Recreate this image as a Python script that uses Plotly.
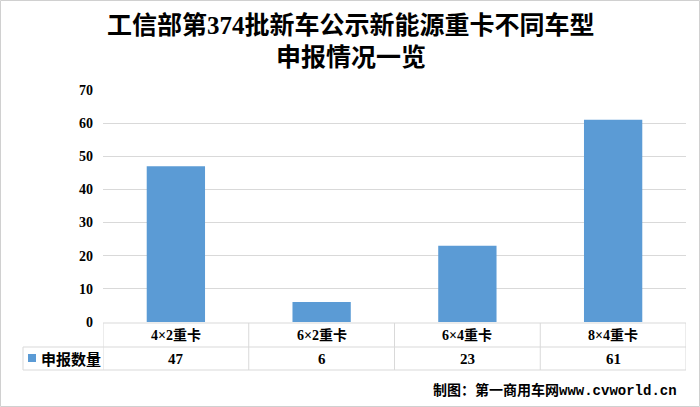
import plotly.graph_objects as go

categories = ["4×2重卡", "6×2重卡", "6×4重卡", "8×4重卡"]
values = [47, 6, 23, 61]
series_name = "申报数量"
title_lines = ["工信部第374批新车公示新能源重卡不同车型", "申报情况一览"]
footer = "制图：第一商用车网www.cvworld.cn"
y_ticks = [0, 10, 20, 30, 40, 50, 60, 70]

BAR = "#5B9BD5"
GRID = "#D9D9D9"
W, H = 700, 407
L, R, T, B = 103, 14, 90, 85
PW, PH = W - L - R, H - T - B

def px_x(p):
    return (p - L) / PW

def px_y(p):
    return (H - B - p) / PH

n = len(categories)
xs = list(range(n))
fig = go.Figure(go.Bar(x=xs, y=values, marker=dict(color=BAR, line=dict(width=0)),
                       width=0.4, name=series_name, showlegend=False, hoverinfo="skip"))

shapes = []
ann = []
# outer border
shapes.append(dict(type="rect", xref="paper", yref="paper", x0=px_x(0.5), x1=px_x(W - 0.5),
                   y0=px_y(H - 0.5), y1=px_y(0.5), line=dict(color="#D0D0D0", width=1)))
row1_top, row1_bot, row2_bot = 323, 347, 370
legend_left = 23
# horizontal table lines
shapes.append(dict(type="line", xref="x", yref="paper", x0=-0.5, x1=n - 0.5,
                   y0=px_y(row1_top), y1=px_y(row1_top), line=dict(color=GRID, width=1)))
for yy in (row1_bot, row2_bot):
    shapes.append(dict(type="line", xref="paper", yref="paper", x0=px_x(legend_left), x1=1,
                       y0=px_y(yy), y1=px_y(yy), line=dict(color=GRID, width=1)))
# vertical table lines
for i in range(n + 1):
    shapes.append(dict(type="line", xref="x", yref="paper", x0=i - 0.5, x1=i - 0.5,
                       y0=px_y(row1_top), y1=px_y(row2_bot), line=dict(color=GRID, width=1)))
shapes.append(dict(type="line", xref="paper", yref="paper", x0=px_x(legend_left), x1=px_x(legend_left),
                   y0=px_y(row1_bot), y1=px_y(row2_bot), line=dict(color=GRID, width=1)))
# legend key
shapes.append(dict(type="rect", xref="paper", yref="paper", x0=px_x(28), x1=px_x(36),
                   y0=px_y(362), y1=px_y(354), fillcolor=BAR, line=dict(width=0)))

serif_cjk = "Liberation Serif, Noto Sans CJK SC"
for i, (c, v) in enumerate(zip(categories, values)):
    ann.append(dict(x=i, y=px_y((row1_top + row1_bot) / 2), xref="x", yref="paper", text="<b>%s</b>" % c,
                    showarrow=False, font=dict(family=serif_cjk, size=14, color="#000000"),
                    xanchor="center", yanchor="middle"))
    ann.append(dict(x=i, y=px_y((row1_bot + row2_bot) / 2), xref="x", yref="paper", text="<b>%s</b>" % v,
                    showarrow=False, font=dict(family="Liberation Serif", size=15, color="#000000"),
                    xanchor="center", yanchor="middle"))
ann.append(dict(x=px_x(39), y=px_y((row1_bot + row2_bot) / 2), xref="paper", yref="paper",
                text="<b>%s</b>" % series_name, showarrow=False,
                font=dict(family="Noto Sans CJK SC", size=15, color="#000000"),
                xanchor="left", yanchor="middle"))
ann.append(dict(x=px_x(679), y=px_y(390), xref="paper", yref="paper", text="<b>%s</b>" % footer,
                showarrow=False, font=dict(family="Liberation Mono, Noto Sans CJK SC", size=14, color="#000000"),
                xanchor="right", yanchor="middle"))
for k, (line, yc) in enumerate(zip(title_lines, (25, 57))):
    ann.append(dict(x=px_x(351), y=px_y(yc), xref="paper", yref="paper",
                    text="<b>%s</b>" % line, showarrow=False,
                    font=dict(family="Liberation Serif, Noto Sans CJK SC", size=25, color="#000000"),
                    xanchor="center", yanchor="middle"))

fig.update_layout(
    width=W, height=H, margin=dict(l=L, r=R, t=T, b=B),
    paper_bgcolor="white", plot_bgcolor="white",
    shapes=shapes, annotations=ann,
    xaxis=dict(range=[-0.5, n - 0.5], showticklabels=False, showgrid=False, zeroline=False,
               showline=False, ticks=""),
    yaxis=dict(range=[0, 70], tickvals=y_ticks, showgrid=True, gridcolor=GRID, gridwidth=1,
               zeroline=False, showline=False, ticks="", ticklabelstandoff=9,
               tickfont=dict(family="Liberation Serif", size=14, color="#000000", weight="bold")),
    bargap=0.6,
)
fig.write_html("out.html", config={"displayModeBar": False},
               post_script="document.body.style.margin='0';")
